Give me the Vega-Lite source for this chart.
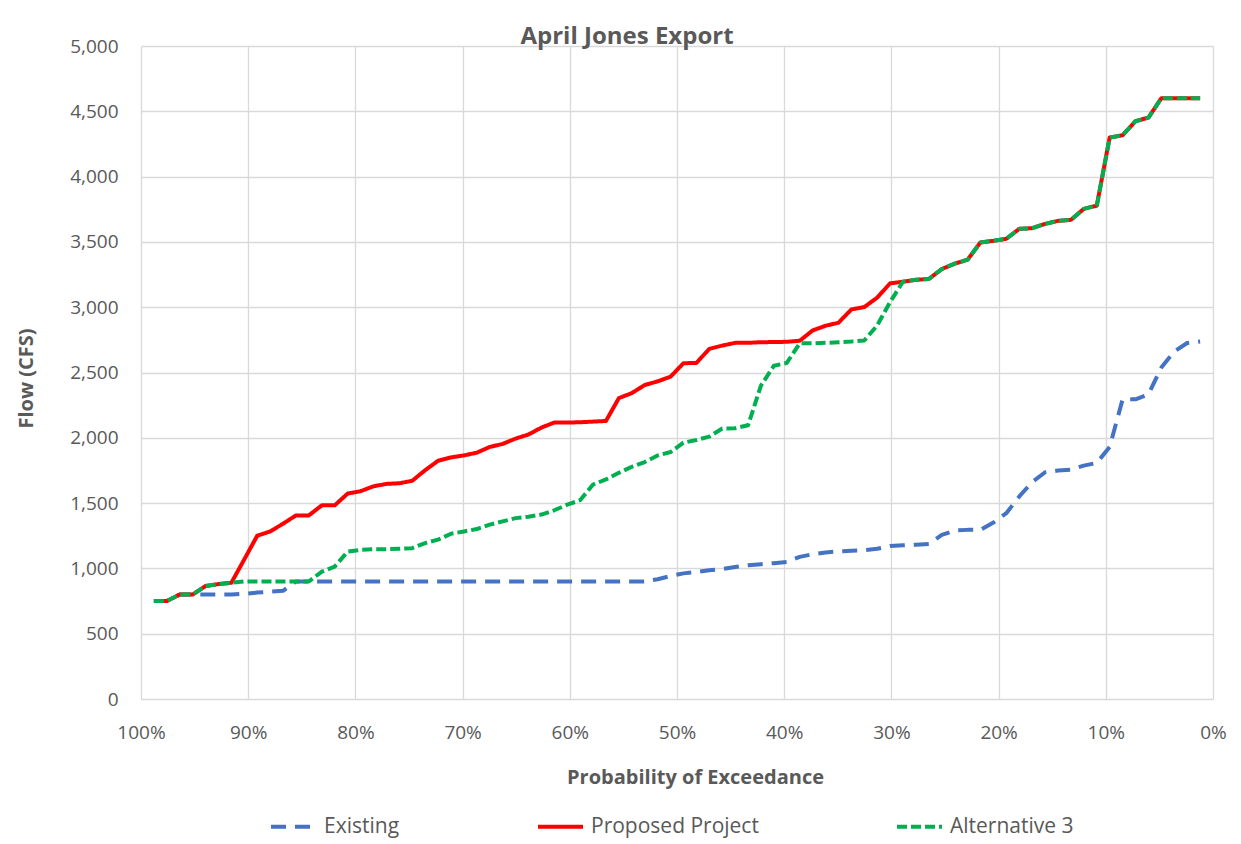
{
  "$schema": "https://vega.github.io/schema/vega-lite/v6.json",
  "autosize": {"type": "none"},
  "width": 1072,
  "height": 653,
  "padding": {"left": 141, "top": 46, "right": 28, "bottom": 145},
  "background": "white",
  "title": {
    "text": "April Jones Export",
    "font": "Open Sans",
    "fontSize": 24,
    "fontWeight": "bold",
    "color": "#595959",
    "anchor": "middle",
    "baseline": "alphabetic",
    "offset": 3,
    "dx": -50,
    "dy": 34
  },
  "data": {
    "values": [
      {"p": 0.9880, "Existing": 750, "Proposed Project": 750, "Alternative 3": 750},
      {"p": 0.9759, "Existing": 750, "Proposed Project": 750, "Alternative 3": 750},
      {"p": 0.9639, "Existing": 800, "Proposed Project": 800, "Alternative 3": 800},
      {"p": 0.9518, "Existing": 800, "Proposed Project": 800, "Alternative 3": 800},
      {"p": 0.9398, "Existing": 800, "Proposed Project": 865, "Alternative 3": 865},
      {"p": 0.9277, "Existing": 800, "Proposed Project": 880, "Alternative 3": 880},
      {"p": 0.9157, "Existing": 800, "Proposed Project": 890, "Alternative 3": 890},
      {"p": 0.9036, "Existing": 805, "Proposed Project": 1070, "Alternative 3": 900},
      {"p": 0.8916, "Existing": 815, "Proposed Project": 1250, "Alternative 3": 900},
      {"p": 0.8795, "Existing": 822, "Proposed Project": 1283, "Alternative 3": 900},
      {"p": 0.8675, "Existing": 828, "Proposed Project": 1342, "Alternative 3": 900},
      {"p": 0.8554, "Existing": 900, "Proposed Project": 1406, "Alternative 3": 900},
      {"p": 0.8434, "Existing": 900, "Proposed Project": 1406, "Alternative 3": 900},
      {"p": 0.8313, "Existing": 900, "Proposed Project": 1483, "Alternative 3": 975},
      {"p": 0.8193, "Existing": 900, "Proposed Project": 1483, "Alternative 3": 1014},
      {"p": 0.8072, "Existing": 900, "Proposed Project": 1573, "Alternative 3": 1129},
      {"p": 0.7952, "Existing": 900, "Proposed Project": 1591, "Alternative 3": 1142},
      {"p": 0.7831, "Existing": 900, "Proposed Project": 1629, "Alternative 3": 1147},
      {"p": 0.7711, "Existing": 900, "Proposed Project": 1647, "Alternative 3": 1147},
      {"p": 0.7590, "Existing": 900, "Proposed Project": 1652, "Alternative 3": 1150},
      {"p": 0.7470, "Existing": 900, "Proposed Project": 1671, "Alternative 3": 1155},
      {"p": 0.7349, "Existing": 900, "Proposed Project": 1752, "Alternative 3": 1194},
      {"p": 0.7229, "Existing": 900, "Proposed Project": 1824, "Alternative 3": 1220},
      {"p": 0.7108, "Existing": 900, "Proposed Project": 1850, "Alternative 3": 1265},
      {"p": 0.6988, "Existing": 900, "Proposed Project": 1865, "Alternative 3": 1283},
      {"p": 0.6867, "Existing": 900, "Proposed Project": 1886, "Alternative 3": 1301},
      {"p": 0.6747, "Existing": 900, "Proposed Project": 1930, "Alternative 3": 1335},
      {"p": 0.6627, "Existing": 900, "Proposed Project": 1953, "Alternative 3": 1360},
      {"p": 0.6506, "Existing": 900, "Proposed Project": 1994, "Alternative 3": 1385},
      {"p": 0.6386, "Existing": 900, "Proposed Project": 2025, "Alternative 3": 1396},
      {"p": 0.6265, "Existing": 900, "Proposed Project": 2078, "Alternative 3": 1412},
      {"p": 0.6145, "Existing": 900, "Proposed Project": 2117, "Alternative 3": 1445},
      {"p": 0.6024, "Existing": 900, "Proposed Project": 2117, "Alternative 3": 1488},
      {"p": 0.5904, "Existing": 900, "Proposed Project": 2119, "Alternative 3": 1522},
      {"p": 0.5783, "Existing": 900, "Proposed Project": 2124, "Alternative 3": 1642},
      {"p": 0.5663, "Existing": 900, "Proposed Project": 2129, "Alternative 3": 1681},
      {"p": 0.5542, "Existing": 900, "Proposed Project": 2304, "Alternative 3": 1732},
      {"p": 0.5422, "Existing": 900, "Proposed Project": 2342, "Alternative 3": 1778},
      {"p": 0.5301, "Existing": 900, "Proposed Project": 2404, "Alternative 3": 1814},
      {"p": 0.5181, "Existing": 917, "Proposed Project": 2432, "Alternative 3": 1865},
      {"p": 0.5060, "Existing": 942, "Proposed Project": 2468, "Alternative 3": 1891},
      {"p": 0.4940, "Existing": 962, "Proposed Project": 2571, "Alternative 3": 1963},
      {"p": 0.4819, "Existing": 973, "Proposed Project": 2573, "Alternative 3": 1983},
      {"p": 0.4699, "Existing": 986, "Proposed Project": 2681, "Alternative 3": 2009},
      {"p": 0.4578, "Existing": 996, "Proposed Project": 2706, "Alternative 3": 2071},
      {"p": 0.4458, "Existing": 1011, "Proposed Project": 2727, "Alternative 3": 2073},
      {"p": 0.4337, "Existing": 1024, "Proposed Project": 2727, "Alternative 3": 2096},
      {"p": 0.4217, "Existing": 1032, "Proposed Project": 2732, "Alternative 3": 2399},
      {"p": 0.4096, "Existing": 1040, "Proposed Project": 2733, "Alternative 3": 2552},
      {"p": 0.3976, "Existing": 1050, "Proposed Project": 2735, "Alternative 3": 2573},
      {"p": 0.3855, "Existing": 1088, "Proposed Project": 2743, "Alternative 3": 2724},
      {"p": 0.3735, "Existing": 1109, "Proposed Project": 2822, "Alternative 3": 2724},
      {"p": 0.3614, "Existing": 1122, "Proposed Project": 2858, "Alternative 3": 2727},
      {"p": 0.3494, "Existing": 1130, "Proposed Project": 2881, "Alternative 3": 2732},
      {"p": 0.3373, "Existing": 1135, "Proposed Project": 2983, "Alternative 3": 2737},
      {"p": 0.3253, "Existing": 1140, "Proposed Project": 3001, "Alternative 3": 2745},
      {"p": 0.3133, "Existing": 1150, "Proposed Project": 3073, "Alternative 3": 2860},
      {"p": 0.3012, "Existing": 1172, "Proposed Project": 3183, "Alternative 3": 3040},
      {"p": 0.2892, "Existing": 1177, "Proposed Project": 3195, "Alternative 3": 3195},
      {"p": 0.2771, "Existing": 1182, "Proposed Project": 3210, "Alternative 3": 3210},
      {"p": 0.2651, "Existing": 1187, "Proposed Project": 3216, "Alternative 3": 3216},
      {"p": 0.2530, "Existing": 1256, "Proposed Project": 3292, "Alternative 3": 3292},
      {"p": 0.2410, "Existing": 1290, "Proposed Project": 3333, "Alternative 3": 3333},
      {"p": 0.2289, "Existing": 1295, "Proposed Project": 3364, "Alternative 3": 3364},
      {"p": 0.2169, "Existing": 1295, "Proposed Project": 3496, "Alternative 3": 3496},
      {"p": 0.2048, "Existing": 1351, "Proposed Project": 3508, "Alternative 3": 3508},
      {"p": 0.1928, "Existing": 1423, "Proposed Project": 3524, "Alternative 3": 3524},
      {"p": 0.1807, "Existing": 1551, "Proposed Project": 3600, "Alternative 3": 3600},
      {"p": 0.1687, "Existing": 1661, "Proposed Project": 3605, "Alternative 3": 3605},
      {"p": 0.1566, "Existing": 1736, "Proposed Project": 3638, "Alternative 3": 3638},
      {"p": 0.1446, "Existing": 1749, "Proposed Project": 3661, "Alternative 3": 3661},
      {"p": 0.1325, "Existing": 1756, "Proposed Project": 3669, "Alternative 3": 3669},
      {"p": 0.1205, "Existing": 1787, "Proposed Project": 3753, "Alternative 3": 3753},
      {"p": 0.1084, "Existing": 1808, "Proposed Project": 3778, "Alternative 3": 3778},
      {"p": 0.0964, "Existing": 1930, "Proposed Project": 4299, "Alternative 3": 4299},
      {"p": 0.0843, "Existing": 2295, "Proposed Project": 4317, "Alternative 3": 4317},
      {"p": 0.0723, "Existing": 2295, "Proposed Project": 4424, "Alternative 3": 4424},
      {"p": 0.0602, "Existing": 2333, "Proposed Project": 4452, "Alternative 3": 4452},
      {"p": 0.0482, "Existing": 2538, "Proposed Project": 4600, "Alternative 3": 4600},
      {"p": 0.0361, "Existing": 2661, "Proposed Project": 4600, "Alternative 3": 4600},
      {"p": 0.0241, "Existing": 2726, "Proposed Project": 4600, "Alternative 3": 4600},
      {"p": 0.0120, "Existing": 2738, "Proposed Project": 4600, "Alternative 3": 4600}
    ]
  },
  "transform": [
    {"fold": ["Existing", "Proposed Project", "Alternative 3"], "as": ["series", "flow"]}
  ],
  "mark": {"type": "line", "strokeWidth": 4, "strokeCap": "butt", "strokeJoin": "round"},
  "encoding": {
    "x": {
      "field": "p",
      "type": "quantitative",
      "scale": {"domain": [0, 1], "reverse": true, "nice": false, "zero": false},
      "axis": {
        "title": "Probability of Exceedance",
        "values": [0, 0.1, 0.2, 0.3, 0.4, 0.5, 0.6, 0.7, 0.8, 0.9, 1],
        "format": ".0%",
        "grid": true,
        "gridColor": "#D9D9D9",
        "gridWidth": 1.3,
        "domain": false,
        "ticks": false,
        "tickSize": 0,
        "labelPadding": 24,
        "labelFont": "Open Sans",
        "labelFontSize": 19,
        "labelColor": "#595959",
        "labelFlush": false,
        "labelOverlap": false,
        "titleFont": "Open Sans",
        "titleFontSize": 20,
        "titleFontWeight": "bold",
        "titleColor": "#595959",
        "titleX": 554,
        "titleY": 84,
        "titleBaseline": "alphabetic",
        "titleAlign": "center"
      }
    },
    "y": {
      "field": "flow",
      "type": "quantitative",
      "scale": {"domain": [0, 5000], "nice": false},
      "axis": {
        "title": "Flow (CFS)",
        "values": [0, 500, 1000, 1500, 2000, 2500, 3000, 3500, 4000, 4500, 5000],
        "format": ",d",
        "grid": true,
        "gridColor": "#D9D9D9",
        "gridWidth": 1.3,
        "domain": false,
        "ticks": false,
        "tickSize": 0,
        "labelPadding": 23,
        "labelFont": "Open Sans",
        "labelFontSize": 19,
        "labelColor": "#595959",
        "labelOverlap": false,
        "titleFont": "Open Sans",
        "titleFontSize": 20,
        "titleFontWeight": "bold",
        "titleColor": "#595959",
        "titleAngle": -90,
        "titleX": -115,
        "titleY": 332,
        "titleBaseline": "middle",
        "titleAlign": "center"
      }
    },
    "color": {
      "field": "series",
      "type": "nominal",
      "sort": ["Existing", "Proposed Project", "Alternative 3"],
      "scale": {
        "domain": ["Existing", "Proposed Project", "Alternative 3"],
        "range": ["#4472C4", "#FF0000", "#00B050"]
      },
      "legend": {
        "title": null,
        "orient": "none",
        "legendX": 128,
        "legendY": 756,
        "direction": "horizontal",
        "symbolType": "stroke",
        "symbolSize": 2025,
        "symbolStrokeWidth": 4,
        "labelFont": "Open Sans",
        "labelFontSize": 21,
        "labelLimit": 400,
        "labelColor": "#595959",
        "labelOffset": 6,
        "columnPadding": 130
      }
    },
    "strokeDash": {
      "field": "series",
      "type": "nominal",
      "sort": ["Existing", "Proposed Project", "Alternative 3"],
      "scale": {
        "domain": ["Existing", "Proposed Project", "Alternative 3"],
        "range": [[15, 9], [1, 0], [10, 4]]
      }
    },
    "order": {"field": "p", "type": "quantitative", "sort": "descending"}
  },
  "config": {
    "view": {"stroke": null}
  }
}
